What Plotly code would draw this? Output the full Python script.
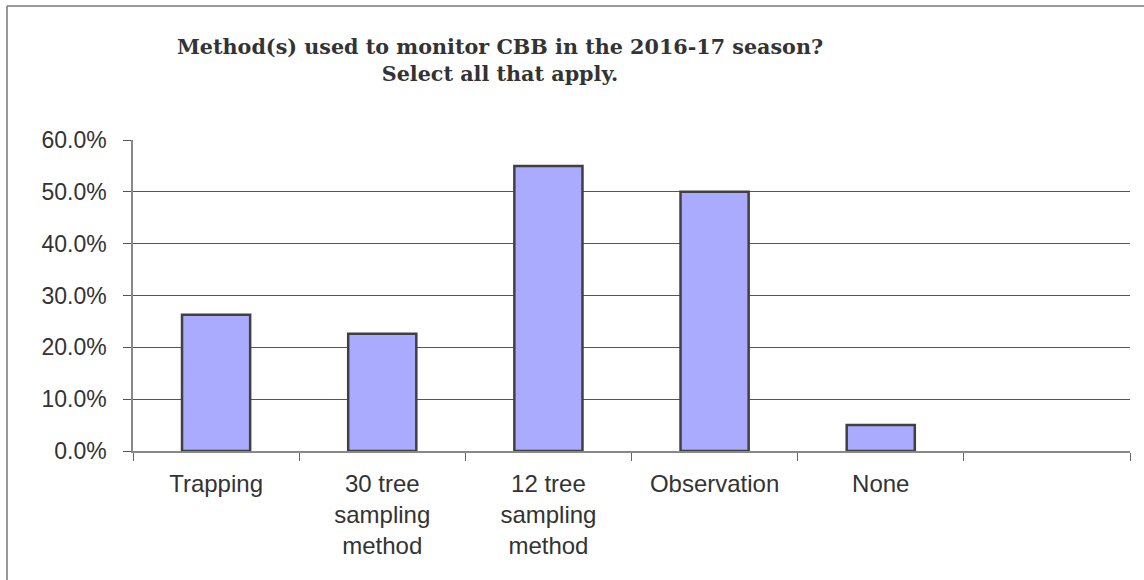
import plotly.graph_objects as go

categories = ["Trapping", "30 tree<br>sampling<br>method", "12 tree<br>sampling<br>method",
              "Observation", "None", " "]
values = [0.263, 0.226, 0.550, 0.500, 0.050, None]
y_ticks = [0.0, 0.1, 0.2, 0.3, 0.4, 0.5, 0.6]
y_tick_labels = ["0.0%", "10.0%", "20.0%", "30.0%", "40.0%", "50.0%", "60.0%"]
title_text = "Method(s) used to monitor CBB in the 2016-17 season?<br>Select all that apply."

W, H = 1144, 580
L, R, T, B = 133, 14, 140, 129
pw, ph = W - L - R, H - T - B

def px_x(x):
    return (x - L) / pw

def px_y(y):
    return (H - B - y) / ph

fig = go.Figure()
fig.add_trace(go.Bar(
    x=categories, y=values, width=0.41,
    marker=dict(color="#AAAAFF", line=dict(color="#404040", width=2.5)),
    hoverinfo="skip",
))

fig.update_layout(
    width=W, height=H,
    margin=dict(l=L, r=R, t=T, b=B, pad=0),
    paper_bgcolor="white", plot_bgcolor="white",
    showlegend=False,
    title=dict(text=title_text, x=500 / W, xanchor="center", xref="container",
               y=1 - 54 / H, yanchor="top", yref="container",
               font=dict(family="DejaVu Serif", size=20.7, color="#333333", weight="bold")),
    xaxis=dict(type="category", tickson="boundaries", ticks="outside", ticklen=8,
               tickcolor="#666666", tickwidth=1, showline=True, linecolor="#888888",
               linewidth=1.5, showgrid=False, range=[-0.5, 5.5], ticklabelstandoff=10,
               tickfont=dict(family="Liberation Sans", size=24, color="#333333")),
    yaxis=dict(range=[0, 0.6], tickvals=y_ticks, ticktext=y_tick_labels,
               ticks="outside", ticklen=8, tickcolor="#555555", showline=True,
               linecolor="#888888", linewidth=1.5, showgrid=True, gridcolor="#555555",
               gridwidth=1, zeroline=False, ticklabelstandoff=12,
               tickfont=dict(family="Liberation Sans", size=23, color="#333333")),
    shapes=[
        dict(type="line", xref="paper", yref="paper", x0=px_x(7), x1=px_x(7),
             y0=px_y(6), y1=px_y(580), line=dict(color="#777777", width=1.5)),
        dict(type="line", xref="paper", yref="paper", x0=px_x(7), x1=px_x(1144),
             y0=px_y(6), y1=px_y(6), line=dict(color="#777777", width=1.5)),
    ],
)

fig.write_html("out.html", config={"displayModeBar": False},
               post_script="document.body.style.margin='0';")
